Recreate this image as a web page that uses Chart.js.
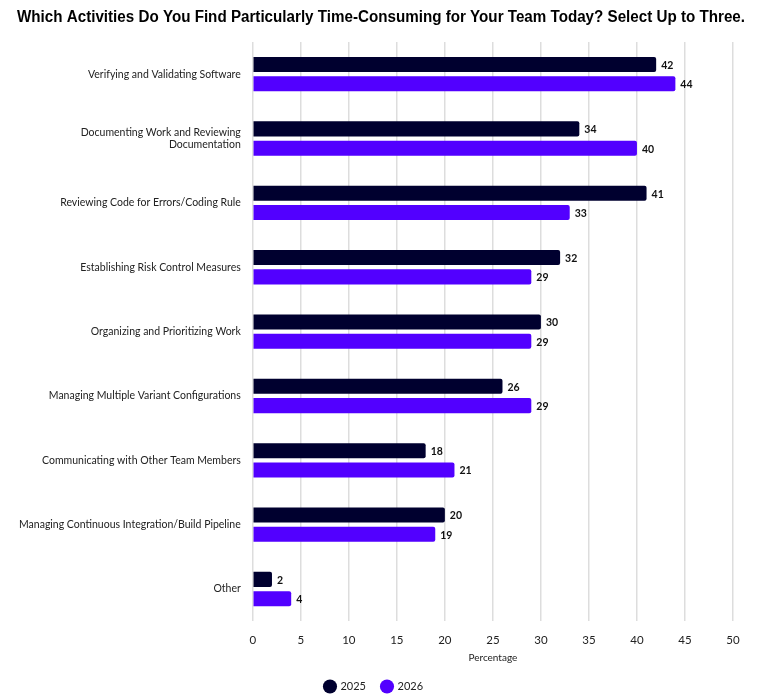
<!DOCTYPE html>
<html>
<head>
<meta charset="utf-8">
<script src="https://cdn.jsdelivr.net/npm/chart.js@4.4.1/dist/chart.umd.min.js"></script>
<style>
  html, body { margin: 0; padding: 0; background: #fff; }
  #wrap { width: 760px; height: 695px; position: relative; }
</style>
</head>
<body>
<div id="wrap"><canvas id="chart"></canvas></div>
<script>
// categories and values
const categories = [
    'Verifying and Validating Software',
    ['Documenting Work and Reviewing', 'Documentation'],
    'Reviewing Code for Errors/Coding Rule',
    'Establishing Risk Control Measures',
    'Organizing and Prioritizing Work',
    'Managing Multiple Variant Configurations',
    'Communicating with Other Team Members',
    'Managing Continuous Integration/Build Pipeline',
    'Other'
];
const values2025 = [42, 34, 41, 32, 30, 26, 18, 20, 2];
const values2026 = [44, 40, 33, 29, 29, 29, 21, 19, 4];
const xTicks = [0, 5, 10, 15, 20, 25, 30, 35, 40, 45, 50];
const chartTitle = 'Which Activities Do You Find Particularly Time-Consuming for Your Team Today? Select Up to Three.';

const labelFont = "'Lato', 'DejaVu Sans', sans-serif";

// title centred on the whole canvas, squeezed to the width of the original
const pageTitle = {
    id: 'pageTitle',
    afterDraw(chart) {
        const ctx = chart.ctx;
        ctx.save();
        ctx.font = "bold 16px 'Liberation Sans', sans-serif";
        ctx.fillStyle = '#000';
        ctx.textAlign = 'center';
        ctx.textBaseline = 'middle';
        ctx.fillText(chartTitle, 381, 18, 728);
        ctx.restore();
    }
};

// values at the end of each bar
const barValues = {
    id: 'barValues',
    afterDatasetsDraw(chart) {
        const ctx = chart.ctx;
        ctx.save();
        ctx.font = "bold 10.5px " + labelFont;
        ctx.fillStyle = '#111';
        ctx.textBaseline = 'middle';
        ctx.textAlign = 'left';
        chart.data.datasets.forEach((ds, i) => {
            chart.getDatasetMeta(i).data.forEach((bar, j) => {
                ctx.fillText(ds.data[j], bar.x + 5, bar.y + 1);
            });
        });
        ctx.restore();
    }
};

let ctx = document.getElementById('chart').getContext('2d');
let chart = new Chart(ctx, {
    type: 'bar',
    data: {
        labels: categories,
        datasets: [{
            label: '2025',
            data: values2025,
            backgroundColor: '#00002f',
            borderRadius: 2,
            categoryPercentage: 0.6,
            barPercentage: 0.78
        }, {
            label: '2026',
            data: values2026,
            backgroundColor: '#5200ff',
            borderRadius: 2,
            categoryPercentage: 0.6,
            barPercentage: 0.78
        }]
    },
    options: {
        indexAxis: 'y',
        responsive: true,
        maintainAspectRatio: false,
        animation: false,
        layout: { padding: { left: 15, right: 27, top: 42, bottom: -7 } },
        plugins: {
            title: { display: false },
            legend: {
                position: 'bottom',
                labels: {
                    usePointStyle: true,
                    pointStyle: 'circle',
                    boxWidth: 10,
                    boxHeight: 10,
                    padding: 16,
                    color: '#222',
                    font: { family: labelFont, size: 11 }
                }
            },
            tooltip: { enabled: false }
        },
        scales: {
            x: {
                min: 0,
                max: 50,
                afterBuildTicks: (axis) => { axis.ticks = xTicks.map(v => ({ value: v })); },
                grid: { color: '#dddddd', lineWidth: 1.5, drawTicks: false },
                border: { display: false },
                ticks: { color: '#222', padding: 12, font: { family: labelFont, size: 11.5 } },
                title: {
                    display: true,
                    text: 'Percentage',
                    color: '#222',
                    font: { family: labelFont, size: 10 },
                    padding: { top: -7, bottom: 1 }
                }
            },
            y: {
                grid: { display: false },
                border: { display: false },
                ticks: { color: '#222', padding: 4, font: { family: labelFont, size: 10.5 } }
            }
        }
    },
    plugins: [barValues, pageTitle]
});
</script>
</body>
</html>
